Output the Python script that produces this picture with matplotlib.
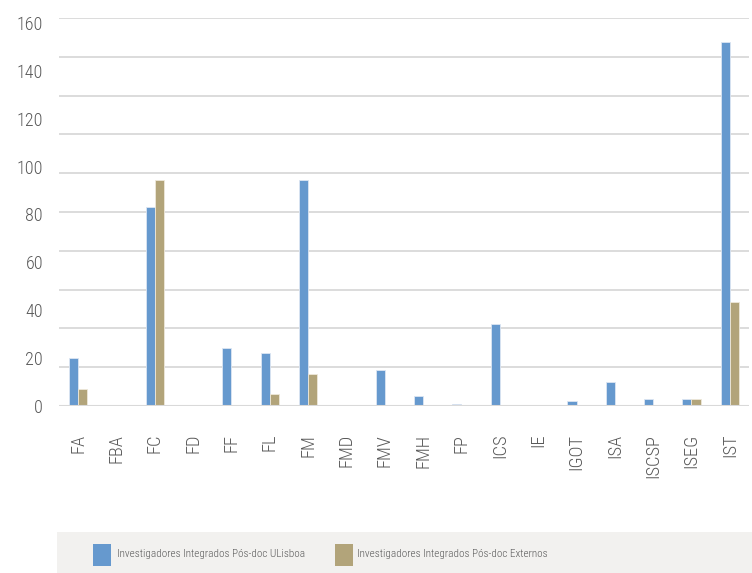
import matplotlib
matplotlib.use("Agg")
import matplotlib.pyplot as plt
import numpy as np
from matplotlib.patches import Rectangle

categories = ["FA", "FBA", "FC", "FD", "FF", "FL", "FM", "FMD", "FMV", "FMH",
              "FP", "ICS", "IE", "IGOT", "ISA", "ISCSP", "ISEG", "IST"]
ulisboa = [20, 0, 82, 0, 24, 22, 93, 0, 15, 4, 1, 34, 0, 2, 10, 3, 3, 150]
externos = [7, 0, 93, 0, 0, 5, 13, 0, 0, 0, 0, 0, 0, 0, 0, 0, 3, 43]
series_names = ["Investigadores Integrados Pós-doc ULisboa",
                "Investigadores Integrados Pós-doc Externos"]
ytick_labels = ["0", "20", "40", "60", "80", "100", "120", "140", "160"]

plt.rcParams['font.family'] = ['Roboto Condensed', 'Archivo Narrow', 'DejaVu Sans']
plt.rcParams['font.weight'] = 'light'

BLUE = "#6699CE"
TAN = "#B2A47A"
TXT = "#595959"

fig = plt.figure(figsize=(7.52, 5.73), dpi=100)
ax = fig.add_axes([59/752, 1-406/573, (749-59)/752, (406-18)/573])

x = np.arange(len(categories))
w = 0.24
ax.bar(x - w/2, ulisboa, w, color=BLUE, edgecolor="#DCE6F2", linewidth=0.6, zorder=3)
ax.bar(x + w/2, externos, w, color=TAN, edgecolor="#EEE8DA", linewidth=0.6, zorder=3)

ax.set_xlim(-0.5, len(categories) - 0.5)
ax.set_ylim(0, 160)

for gy in np.arange(16, 161, 16):
    ax.axhline(gy, color="#D9D9D9", linewidth=1.3, zorder=1)
ax.axhline(0, color="#D9D9D9", linewidth=1.5, zorder=4)

ax.set_yticks(np.linspace(0, 158, 9))
ax.set_yticklabels(ytick_labels, fontsize=13, color=TXT)
ax.tick_params(axis='y', length=0, pad=11.5)

ax.set_xticks(x)
ax.set_xticklabels(categories, rotation=90, fontsize=13.3, color=TXT, va='top')
ax.tick_params(axis='x', length=0, pad=20)

for s in ax.spines.values():
    s.set_visible(False)

# legend box
W, H = 752, 573
fig.patches.append(Rectangle((57/W, 0), (W-57)/W, (H-532)/H, transform=fig.transFigure,
                             facecolor="#F2F1EF", edgecolor="none", zorder=0))
for (x0, col, tx, name) in [(93, BLUE, 117, series_names[0]), (335, TAN, 357, series_names[1])]:
    fig.patches.append(Rectangle((x0/W, 1-566/H), 17.5/W, 22.5/H, transform=fig.transFigure,
                                 facecolor=col, edgecolor="none", zorder=1))
    fig.text(tx/W, 1-554/H, name, fontsize=8, color=TXT, va='center', ha='left')

fig.savefig("out.png", dpi=100)
